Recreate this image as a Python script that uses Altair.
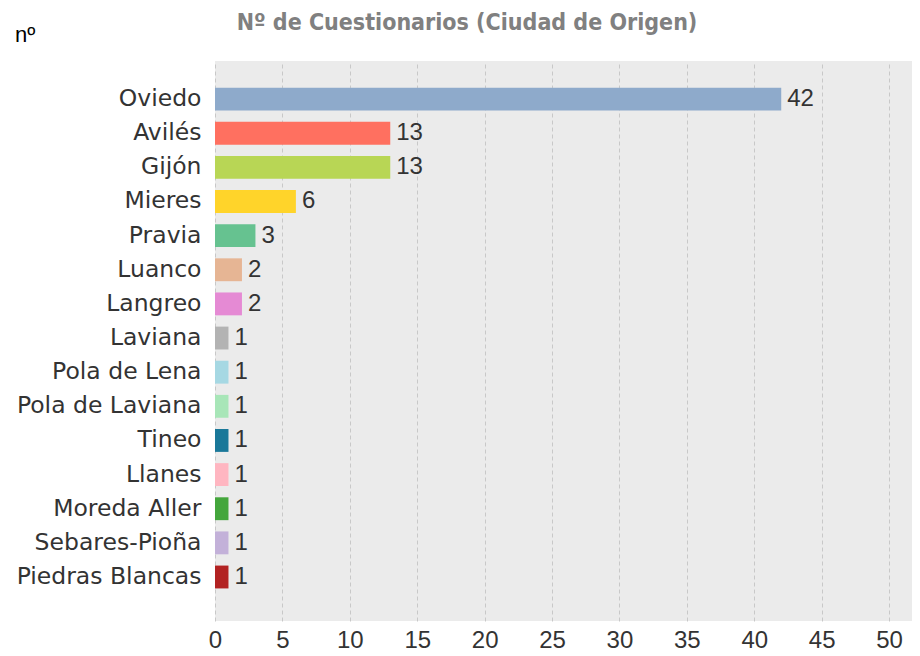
import altair as alt
import pandas as pd

cities = ["Oviedo", "Avilés", "Gijón", "Mieres", "Pravia", "Luanco", "Langreo",
          "Laviana", "Pola de Lena", "Pola de Laviana", "Tineo", "Llanes",
          "Moreda Aller", "Sebares-Pioña", "Piedras Blancas"]
values = [42, 13, 13, 6, 3, 2, 2, 1, 1, 1, 1, 1, 1, 1, 1]
colors = ["#8eaacb", "#ff7060", "#b8d655", "#ffd42a", "#66c290", "#e6b594", "#e58ad4",
          "#b3b3b3", "#a6d8e3", "#a8e6b8", "#1a7899", "#ffb6c1", "#44a63c", "#c3b1d9", "#b22222"]
x_ticks = [0, 5, 10, 15, 20, 25, 30, 35, 40, 45, 50]
title_text = "Nº de Cuestionarios (Ciudad de Origen)"
y_title = "nº"

df = pd.DataFrame({"city": cities, "value": values})

LABEL_FONT = "DejaVu Sans"
NUM_FONT = "Liberation Sans"

y_enc = alt.Y("city:N", sort=cities,
              scale=alt.Scale(paddingInner=0.33, paddingOuter=0.867, align=0.45),
              axis=alt.Axis(title=None, domain=False, ticks=False, labelPadding=14,
                            labelFontSize=23.5, labelColor="#333333", labelFont=LABEL_FONT,
                            labelLimit=400, grid=False))
x_enc = alt.X("value:Q", scale=alt.Scale(domain=[0, 51.7], nice=False, zero=True),
              axis=alt.Axis(title=None, values=x_ticks, domain=False, ticks=False,
                            labelPadding=7, labelFontSize=24, labelColor="#333333",
                            labelFont=NUM_FONT, grid=True, gridColor="#c8c8c8",
                            gridDash=[4, 3], gridWidth=1, labelFlush=False))

bars = alt.Chart(df).mark_bar().encode(
    x=x_enc, y=y_enc,
    color=alt.Color("city:N", scale=alt.Scale(domain=cities, range=colors), legend=None),
)

labels = alt.Chart(df).mark_text(align="left", baseline="middle", dx=6,
                                  fontSize=24, font=NUM_FONT, color="#333333").encode(
    x="value:Q", y=alt.Y("city:N", sort=cities), text="value:Q")

title_layer = alt.Chart(pd.DataFrame({"t": [title_text]})).mark_text(
    align="center", baseline="middle", fontSize=23, fontWeight="bold",
    font="DejaVu Sans Condensed", color="#808080").encode(
    x=alt.value(252), y=alt.value(-38), text="t:N")

ytitle_layer = alt.Chart(pd.DataFrame({"t": [y_title]})).mark_text(
    align="left", baseline="alphabetic", fontSize=22, font=NUM_FONT, color="#000000").encode(
    x=alt.value(-200), y=alt.value(-19), text="t:N")

chart = alt.layer(bars, labels, title_layer, ytitle_layer).properties(
    width=697, height=560,
    autosize=alt.AutoSizeParams(type="none"),
    padding={"left": 207, "top": 53, "right": 0, "bottom": 33},
).configure_view(fill="#ebebeb", stroke=None)

chart.save("out.html", embed_options={"renderer": "svg", "actions": False})
